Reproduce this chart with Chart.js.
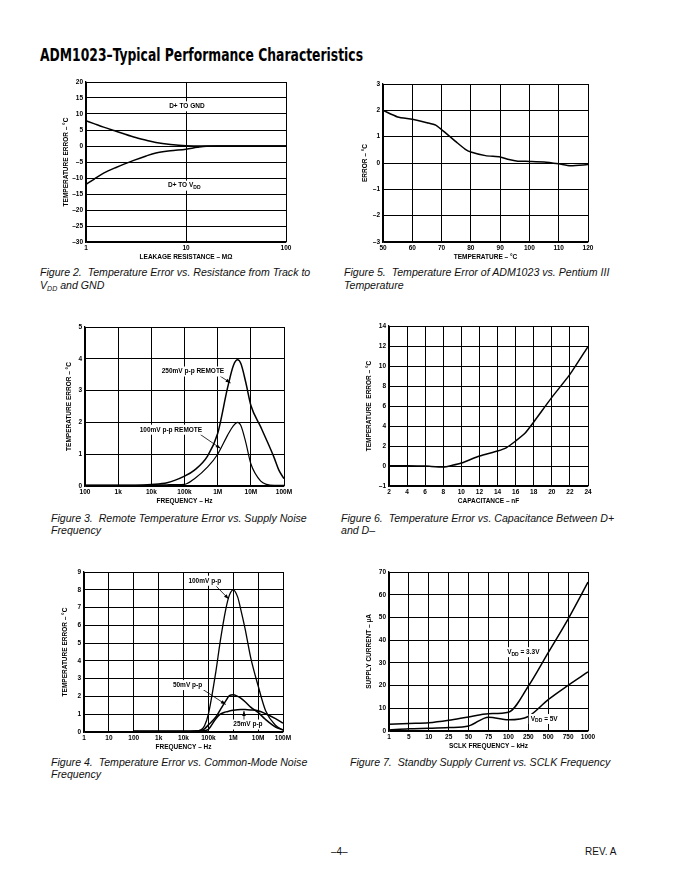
<!DOCTYPE html>
<html>
<head>
<meta charset="utf-8">
<script src="https://cdn.jsdelivr.net/npm/chart.js@4.4.1/dist/chart.umd.min.js"></script>
<style>
body { margin: 0; background: #fff; }
#page { position: relative; width: 680px; height: 880px; overflow: hidden; font-family: "Liberation Sans", Arial, sans-serif; color: #111; }
#title { position: absolute; left: 40px; top: 47px; font-family: "Liberation Sans Narrow", "DejaVu Sans Condensed", sans-serif; font-weight: bold; font-size: 17.5px; line-height: 17px; white-space: nowrap; transform-origin: 0 0; color: #000; }
.cap { position: absolute; font-style: italic; font-size: 10.6px; line-height: 12px; white-space: nowrap; }
.foot { position: absolute; font-size: 10px; line-height: 12px; top: 846px; }
canvas { position: absolute; }
</style>
</head>
<body>
<div id="page">
  <div id="title">ADM1023–Typical Performance Characteristics</div>

  <canvas id="fig2"></canvas>
  <canvas id="fig5"></canvas>
  <canvas id="fig3"></canvas>
  <canvas id="fig6"></canvas>
  <canvas id="fig4"></canvas>
  <canvas id="fig7"></canvas>

  <div class="cap" style="left:40px;top:266px;line-height:13px">Figure 2.&nbsp; Temperature Error vs. Resistance from Track to<br>V<sub style="font-size:7px;vertical-align:-2px">DD</sub> and GND</div>
  <div class="cap" style="left:344px;top:266px;line-height:13px">Figure 5.&nbsp; Temperature Error of ADM1023 vs. Pentium III<br>Temperature</div>
  <div class="cap" style="left:51px;top:512px">Figure 3.&nbsp; Remote Temperature Error vs. Supply Noise<br>Frequency</div>
  <div class="cap" style="left:341px;top:513px;line-height:11.5px">Figure 6.&nbsp; Temperature Error vs. Capacitance Between D+<br>and D–</div>
  <div class="cap" style="left:51px;top:757px;line-height:11.5px">Figure 4.&nbsp; Temperature Error vs. Common-Mode Noise<br>Frequency</div>
  <div class="cap" style="left:350px;top:756px">Figure 7.&nbsp; Standby Supply Current vs. SCLK Frequency</div>

  <div class="foot" style="left:331px">–4–</div>
  <div class="foot" style="left:585px">REV. A</div>
</div>
<script>
// Figure 2: temperature error vs leakage resistance (MΩ)
const leakRes = [1, 1.2, 1.5, 2, 3, 4, 5, 7, 10, 13, 16, 20, 50, 100];
const errToGnd = [7.9, 7.0, 5.9, 4.6, 2.8, 1.8, 1.1, 0.45, 0.05, 0, 0, 0, 0, 0];
const errToVdd = [-12, -10.4, -8.5, -6.7, -4.5, -3.1, -2.2, -1.5, -1.0, -0.4, -0.05, 0, 0, 0];
const leakTicks = [1, 10, 100];

// Figure 5: error vs Pentium III temperature
const cpuTemp = [50, 55, 60, 65, 68, 70, 73, 75, 78, 80, 85, 90, 93, 96, 100, 105, 110, 114, 120];
const cpuErr = [2.0, 1.75, 1.66, 1.53, 1.44, 1.27, 0.99, 0.8, 0.53, 0.42, 0.28, 0.23, 0.13, 0.07, 0.06, 0.04, -0.03, -0.1, -0.06];

// Figure 3: error vs supply noise frequency
const supFreq = [100, 1e3, 1e4, 3e4, 1e5, 2e5, 5e5, 1e6, 2e6, 3e6, 4e6, 5e6, 7e6, 1e7, 2e7, 3e7, 5e7, 7e7, 1e8];
const err250Remote = [0.02, 0.02, 0.05, 0.1, 0.31, 0.5, 0.95, 1.65, 3.1, 3.8, 3.97, 3.85, 3.27, 2.54, 1.85, 1.44, 0.9, 0.5, 0.23];
const err100Remote = [0.02, 0.02, 0.03, 0.04, 0.05, 0.23, 0.6, 1.0, 1.6, 1.9, 2.0, 1.9, 1.38, 0.7, 0.15, 0.05, 0.02, 0.02, 0.02];
const supFreqTicks = [100, 1e3, 1e4, 1e5, 1e6, 1e7, 1e8];
const supFreqLabels = ['100', '1k', '10k', '100k', '1M', '10M', '100M'];

// Figure 6: error vs capacitance between D+ and D-
const capNf = [2, 4, 6, 8, 9, 10, 12, 14, 15, 16, 17, 18, 20, 22, 24];
const capErr = [0.03, 0.03, 0, -0.1, 0.07, 0.3, 1.0, 1.5, 1.84, 2.5, 3.24, 4.4, 6.86, 9.16, 11.94];

// Figure 4: error vs common-mode noise frequency
const cmFreq = [100, 1e3, 1e4, 3e4, 5e4, 7e4, 1e5, 2e5, 3e5, 5e5, 7e5, 1e6, 1.5e6, 2e6, 3e6, 5e6, 1e7, 2e7, 5e7, 1e8];
const err100mV = [0.05, 0.05, 0.05, 0.06, 0.12, 0.35, 1.0, 3.4, 5.1, 6.9, 7.7, 8.0, 7.6, 6.9, 5.8, 4.2, 2.6, 1.2, 0.38, 0.1];
const err50mV = [0.04, 0.04, 0.04, 0.05, 0.08, 0.18, 0.4, 0.85, 1.25, 1.75, 2.05, 2.1, 2.0, 1.9, 1.7, 1.4, 1.1, 0.7, 0.28, 0.13];
const err25mV = [0.03, 0.03, 0.03, 0.03, 0.05, 0.08, 0.15, 0.75, 1.0, 1.13, 1.18, 1.22, 1.25, 1.26, 1.26, 1.24, 1.19, 1.03, 0.75, 0.5];
const cmFreqTicks = [1, 10, 100, 1e3, 1e4, 1e5, 1e6, 1e7, 1e8];
const cmFreqLabels = ['1', '10', '100', '1k', '10k', '100k', '1M', '10M', '100M'];

// Figure 7: standby supply current vs SCLK frequency
const sclkLabels = ['1', '5', '10', '25', '50', '75', '100', '250', '500', '750', '1000'];
const idd33V = [3.0, 3.3, 3.6, 4.7, 6.2, 7.6, 8.3, 19.7, 34.5, 49.3, 65.5];
const idd5V = [0.4, 1.0, 1.2, 1.5, 2.2, 6.1, 4.9, 6.4, 13.8, 20.1, 26];

const FONT = '"Liberation Sans", Arial, sans-serif';
const tickFont = { family: FONT, size: 6.5, weight: 'bold' };
const dash = v => (v < 0 ? '–' + Math.abs(v) : '' + v);
const pts = (xs, ys) => xs.map((x, i) => ({ x: x, y: ys[i] }));

// labels and arrows drawn over the plot, positions in data units
const notesPlugin = {
  id: 'notes',
  afterDatasetsDraw(chart, args, opts) {
    const ctx = chart.ctx, sx = chart.scales.x, sy = chart.scales.y;
    (opts.items || []).forEach(n => {
      ctx.save();
      ctx.fillStyle = '#000';
      ctx.strokeStyle = '#000';
      if (n.arrow) {
        const x0 = sx.getPixelForValue(n.arrow[0]), y0 = sy.getPixelForValue(n.arrow[1]);
        const x1 = sx.getPixelForValue(n.arrow[2]), y1 = sy.getPixelForValue(n.arrow[3]);
        const a = Math.atan2(y1 - y0, x1 - x0);
        ctx.lineWidth = 0.8;
        ctx.beginPath(); ctx.moveTo(x0, y0); ctx.lineTo(x1, y1); ctx.stroke();
        ctx.beginPath();
        ctx.moveTo(x1, y1);
        ctx.lineTo(x1 - 5 * Math.cos(a) + 1.8 * Math.sin(a), y1 - 5 * Math.sin(a) - 1.8 * Math.cos(a));
        ctx.lineTo(x1 - 5 * Math.cos(a) - 1.8 * Math.sin(a), y1 - 5 * Math.sin(a) + 1.8 * Math.cos(a));
        ctx.closePath(); ctx.fill();
      }
      const main = 'bold 6.5px ' + FONT, small = 'bold 5px ' + FONT;
      ctx.font = main;
      const w1 = ctx.measureText(n.text).width;
      ctx.font = small;
      const w2 = n.sub ? ctx.measureText(n.sub).width : 0;
      ctx.font = main;
      const w3 = n.after ? ctx.measureText(n.after).width : 0;
      const w = w1 + w2 + w3;
      const cx = sx.getPixelForValue(n.x), cy = sy.getPixelForValue(n.y);
      const left = cx - w / 2;
      ctx.fillStyle = '#fff';
      ctx.fillRect(left - 2, cy - 5, w + 4, 10);
      ctx.fillStyle = '#000';
      ctx.textBaseline = 'middle';
      ctx.textAlign = 'left';
      ctx.fillText(n.text, left, cy);
      if (n.sub) {
        ctx.font = small;
        ctx.fillText(n.sub, left + w1, cy + 2);
        ctx.font = main;
      }
      if (n.after) ctx.fillText(n.after, left + w1 + w2, cy);
      ctx.restore();
    });
  }
};

function axisBase(titleText) {
  return {
    grid: { color: '#000', lineWidth: 1, drawTicks: false },
    border: { color: '#000', width: 1.3 },
    ticks: { color: '#000', font: tickFont, padding: 2, maxRotation: 0, autoSkip: false },
    title: { display: true, text: titleText, color: '#000', font: tickFont, padding: 0 }
  };
}

function plotChart(id, box, datasets, xOpts, yOpts, notes) {
  const cv = document.getElementById(id);
  const padR = 14, padT = 8, xh = 19;
  cv.width = box.w + box.yw + padR;
  cv.height = box.h + padT + xh;
  cv.style.left = (box.x - box.yw) + 'px';
  cv.style.top = (box.y - padT) + 'px';
  const x = Object.assign(axisBase(xOpts.title), xOpts);
  x.ticks = Object.assign(x.ticks, xOpts.tickOpts || {});
  x.afterFit = s => { s.height = xh; };
  const y = Object.assign(axisBase(yOpts.title), yOpts);
  y.ticks = Object.assign(y.ticks, { padding: 3 }, yOpts.tickOpts || {});
  y.afterFit = s => { s.width = box.yw; };
  x.title = axisBase(xOpts.title).title;
  y.title = axisBase(yOpts.title).title;
  delete x.tickOpts; delete y.tickOpts;
  return new Chart(cv, {
    type: 'line',
    data: {
      labels: xOpts.labels,
      datasets: datasets.map(d => Object.assign({
        borderColor: '#000', borderWidth: 1.5, pointRadius: 0, fill: false,
        cubicInterpolationMode: 'monotone'
      }, d))
    },
    options: {
      responsive: false,
      animation: false,
      layout: { padding: { top: padT, right: padR, left: 0, bottom: 0 } },
      scales: { x: x, y: y },
      plugins: { legend: { display: false }, tooltip: { enabled: false }, notes: { items: notes || [] } }
    },
    plugins: [notesPlugin]
  });
}

function logAxis(title, min, max, tickVals, tickLabels) {
  return {
    type: 'logarithmic', min: min, max: max, title: title,
    afterBuildTicks: s => { s.ticks = tickVals.map(v => ({ value: v })); },
    tickOpts: { callback: v => (tickLabels ? tickLabels[tickVals.indexOf(v)] : '' + v) }
  };
}

// Figure 2
plotChart('fig2', { x: 86, y: 82, w: 200, h: 160, yw: 24 },
  [{ data: pts(leakRes, errToGnd) }, { data: pts(leakRes, errToVdd) }],
  logAxis('LEAKAGE RESISTANCE – MΩ', 1, 100, leakTicks, null),
  { type: 'linear', min: -30, max: 20, title: 'TEMPERATURE ERROR – °C', tickOpts: { stepSize: 5, callback: dash } },
  [{ x: 10.2, y: 12.4, text: 'D+ TO GND' }, { x: 9.6, y: -12.4, text: 'D+ TO V', sub: 'DD' }]);

// Figure 5
plotChart('fig5', { x: 383, y: 84, w: 205, h: 158, yw: 22 },
  [{ data: pts(cpuTemp, cpuErr), cubicInterpolationMode: 'default', tension: 0.2 }],
  { type: 'linear', min: 50, max: 120, title: 'TEMPERATURE – °C', tickOpts: { stepSize: 10 } },
  { type: 'linear', min: -3, max: 3, title: 'ERROR – °C', tickOpts: { stepSize: 1, callback: dash } });

// Figure 3
plotChart('fig3', { x: 85, y: 327, w: 199, h: 159, yw: 20 },
  [{ data: pts(supFreq, err250Remote) }, { data: pts(supFreq, err100Remote), borderWidth: 1.2 }],
  logAxis('FREQUENCY – Hz', 100, 1e8, supFreqTicks, supFreqLabels),
  { type: 'linear', min: 0, max: 5, title: 'TEMPERATURE ERROR – °C', tickOpts: { stepSize: 1 } },
  [
    { x: 1.8e5, y: 3.6, text: '250mV p-p REMOTE', arrow: [1.17e6, 3.46, 2.45e6, 3.24] },
    { x: 3.9e4, y: 1.77, text: '100mV p-p REMOTE', arrow: [3.0e5, 1.62, 1.23e6, 1.18] }
  ]);

// Figure 6 (printed scale labels its bottom line "-1" though rows are 2 units tall)
plotChart('fig6', { x: 389, y: 326, w: 199, h: 160, yw: 24 },
  [{ data: pts(capNf, capErr), cubicInterpolationMode: 'default', tension: 0.2 }],
  { type: 'linear', min: 2, max: 24, title: 'CAPACITANCE – nF', tickOpts: { stepSize: 2 } },
  { type: 'linear', min: -2, max: 14, title: 'TEMPERATURE  ERROR – °C', tickOpts: { stepSize: 2, callback: v => (v === -2 ? '–1' : dash(v)) } });

// Figure 4
plotChart('fig4', { x: 84, y: 572, w: 199, h: 160, yw: 23 },
  [{ data: pts(cmFreq, err100mV), borderWidth: 1.3 }, { data: pts(cmFreq, err50mV) }, { data: pts(cmFreq, err25mV) }],
  logAxis('FREQUENCY – Hz', 1, 1e8, cmFreqTicks, cmFreqLabels),
  { type: 'linear', min: 0, max: 9, title: 'TEMPERATURE ERROR – °C', tickOpts: { stepSize: 1 } },
  [
    { x: 7.2e4, y: 8.51, text: '100mV p-p', arrow: [2.1e5, 8.19, 6.6e5, 7.48] },
    { x: 1.45e4, y: 2.64, text: '50mV p-p', arrow: [5.9e4, 2.40, 5.0e5, 1.55] },
    { x: 3.9e6, y: 0.42, text: '25mV p-p', arrow: [2.7e6, 0.66, 2.7e6, 1.18] }
  ]);

// Figure 7
plotChart('fig7', { x: 389, y: 572, w: 199, h: 159, yw: 24 },
  [{ data: idd33V }, { data: idd5V }],
  { type: 'category', labels: sclkLabels, offset: false, title: 'SCLK FREQUENCY – kHz' },
  { type: 'linear', min: 0, max: 70, title: 'SUPPLY CURRENT – µA', tickOpts: { stepSize: 10 } },
  [{ x: 6.75, y: 34.7, text: 'V', sub: 'DD', after: ' = 3.3V' }, { x: 7.8, y: 5.3, text: 'V', sub: 'DD', after: ' = 5V' }]);

// fit the condensed title to its printed width
const t = document.getElementById('title');
t.style.transform = 'scaleX(' + (323 / t.getBoundingClientRect().width) + ')';
</script>
</body>
</html>
